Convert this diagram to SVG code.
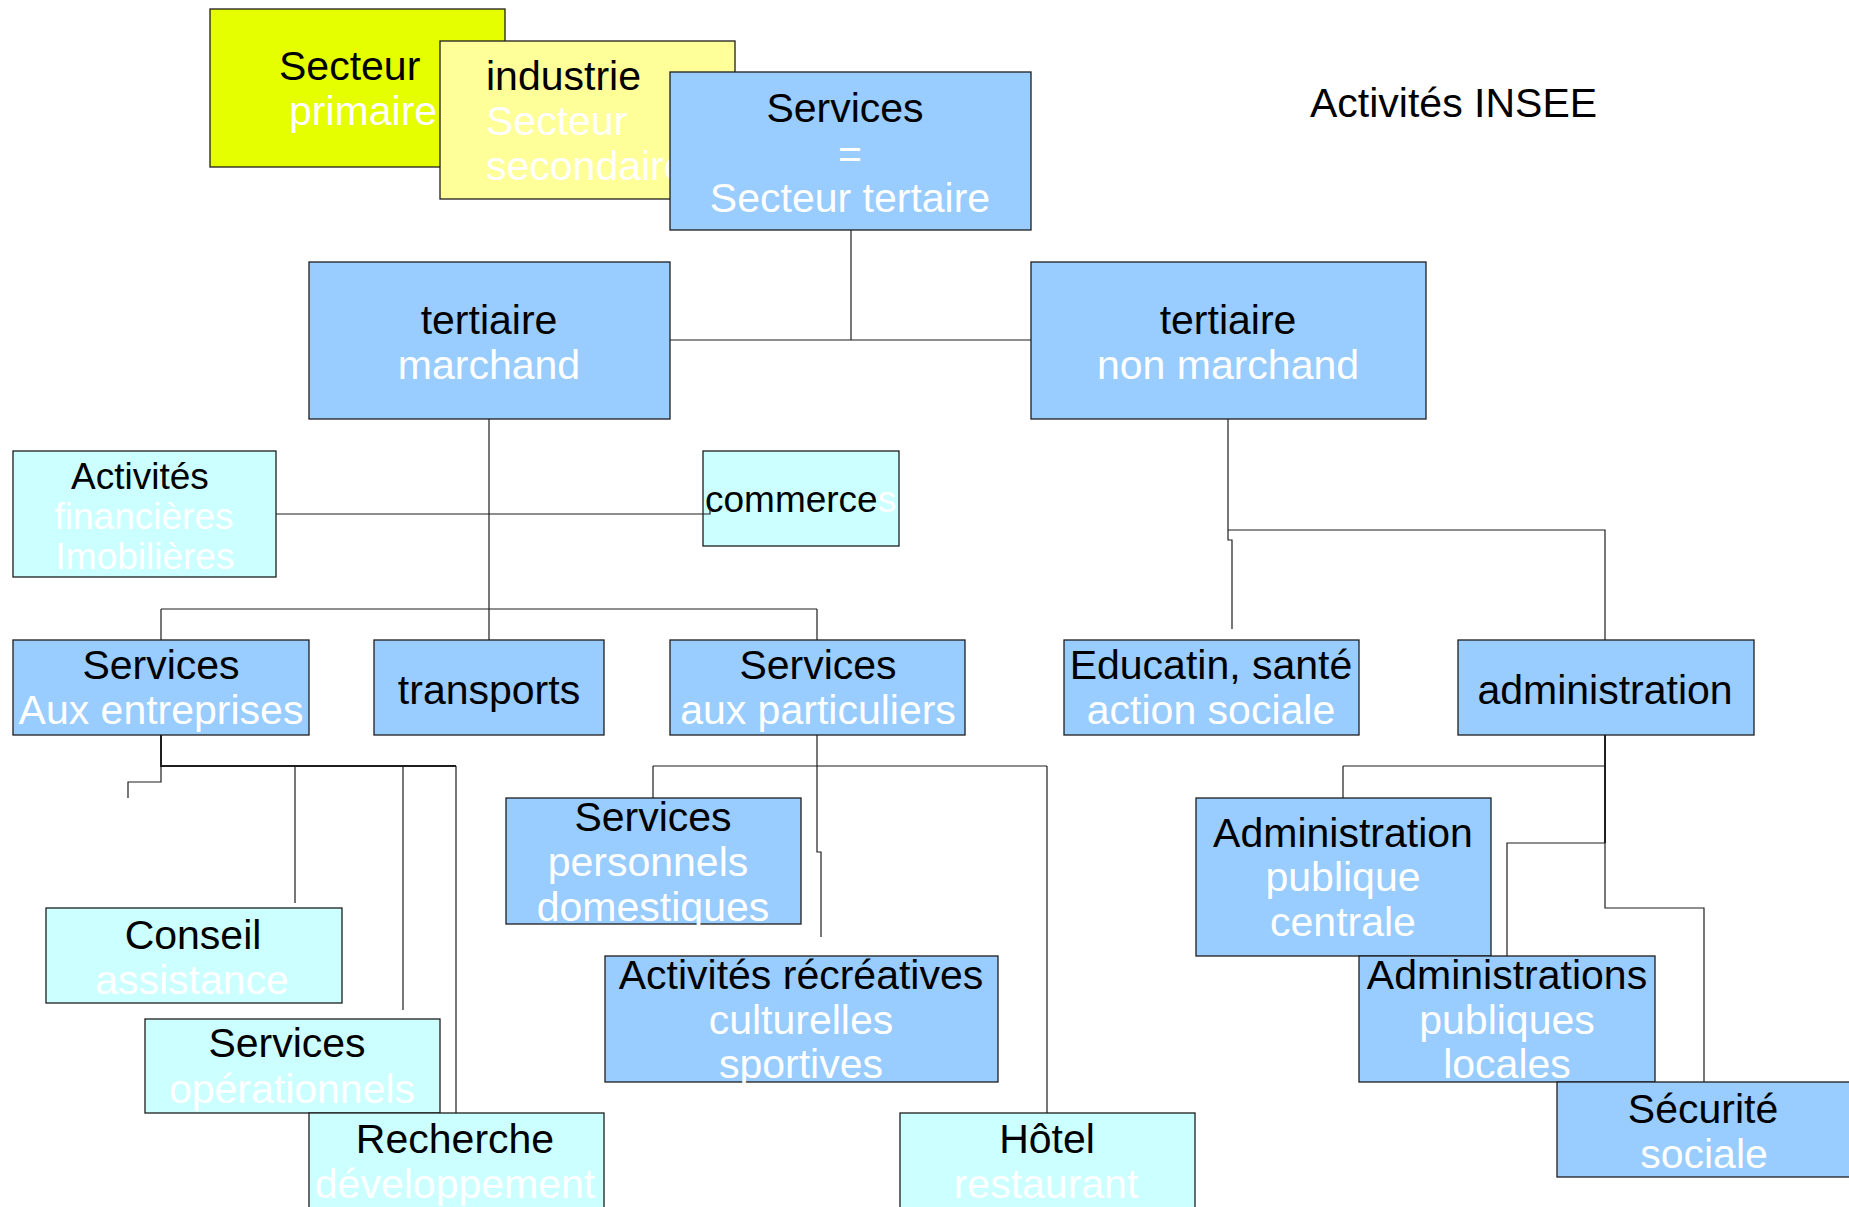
<svg xmlns="http://www.w3.org/2000/svg" width="1849" height="1207" viewBox="0 0 1849 1207">
<style>
.n{stroke:#1e1e1e;stroke-width:1.3}
.lime{fill:#e5ff00}.yel{fill:#ffff99}.blue{fill:#99ccff}.cyan{fill:#ccffff}
text{font-family:"Liberation Sans",Arial,sans-serif;font-size:41px}
.b{fill:#000}.w{fill:#ffffff}
.m{text-anchor:middle}
.s{font-size:37px}
.c path{fill:none;stroke:#1e1e1e;stroke-width:1.2}
.c .t{stroke-width:2}
</style>
<rect width="1849" height="1207" fill="#ffffff"/>
<text x="1310" y="117" class="b">Activités INSEE</text>
<g id="primaire"><rect class="n lime" x="210" y="9" width="295" height="158"/>
<text x="279" y="80" class="b">Secteur</text><text x="289" y="125" class="w">primaire</text></g>
<g id="industrie"><rect class="n yel" x="440" y="41" width="295" height="158"/>
<text x="486" y="90" class="b">industrie</text><text x="486" y="135" class="w">Secteur</text><text x="486" y="180" class="w">secondaire</text></g>
<g id="services"><rect class="n blue" x="670" y="72" width="361" height="158"/>
<text x="845" y="122" class="b m">Services</text><text x="850" y="168" class="w m">=</text><text x="850" y="212" class="w m">Secteur tertaire</text></g>
<g id="marchand"><rect class="n blue" x="309" y="262" width="361" height="157"/>
<text x="489" y="334" class="b m">tertiaire</text><text x="489" y="379" class="w m">marchand</text></g>
<g id="nonmarchand"><rect class="n blue" x="1031" y="262" width="395" height="157"/>
<text x="1228" y="334" class="b m">tertiaire</text><text x="1228" y="379" class="w m">non marchand</text></g>
<g id="financieres"><rect class="n cyan" x="13" y="451" width="263" height="126"/>
<text x="140" y="489" class="b m s">Activités</text><text x="144" y="529" class="w m s">financières</text><text x="145" y="569" class="w m s">Imobilières</text></g>
<g id="commerce"><rect class="n cyan" x="703" y="451" width="196" height="95"/>
<text x="705" y="512" class="b s">commerce<tspan class="w">s</tspan></text></g>
<g id="entreprises"><rect class="n blue" x="13" y="640" width="296" height="95"/>
<text x="161" y="679" class="b m">Services</text><text x="161" y="724" class="w m">Aux entreprises</text></g>
<g id="transports"><rect class="n blue" x="374" y="640" width="230" height="95"/>
<text x="489" y="704" class="b m">transports</text></g>
<g id="particuliers"><rect class="n blue" x="670" y="640" width="295" height="95"/>
<text x="818" y="679" class="b m">Services</text><text x="818" y="724" class="w m">aux particuliers</text></g>
<g id="education"><rect class="n blue" x="1064" y="640" width="295" height="95"/>
<text x="1211" y="679" class="b m">Educatin, santé</text><text x="1211" y="724" class="w m">action sociale</text></g>
<g id="administration"><rect class="n blue" x="1458" y="640" width="296" height="95"/>
<text x="1605" y="704" class="b m">administration</text></g>
<g id="conseil"><rect class="n cyan" x="46" y="908" width="296" height="95"/>
<text x="193" y="949" class="b m">Conseil</text><text x="192" y="994" class="w m">assistance</text></g>
<g id="operationnels"><rect class="n cyan" x="145" y="1019" width="295" height="94"/>
<text x="287" y="1057" class="b m">Services</text><text x="292" y="1103" class="w m">opérationnels</text></g>
<g id="recherche"><rect class="n cyan" x="309" y="1113" width="295" height="120"/>
<text x="455" y="1153" class="b m">Recherche</text><text x="455" y="1198" class="w m">développement</text></g>
<g id="personnels"><rect class="n blue" x="506" y="798" width="295" height="126"/>
<text x="653" y="831" class="b m">Services</text><text x="648" y="876" class="w m">personnels</text><text x="653" y="921" class="w m">domestiques</text></g>
<g id="recreatives"><rect class="n blue" x="605" y="956" width="393" height="126"/>
<text x="801" y="989" class="b m">Activités récréatives</text><text x="801" y="1034" class="w m">culturelles</text><text x="801" y="1078" class="w m">sportives</text></g>
<g id="hotel"><rect class="n cyan" x="900" y="1113" width="295" height="120"/>
<text x="1047" y="1153" class="b m">Hôtel</text><text x="1046" y="1198" class="w m">restaurant</text></g>
<g id="centrale"><rect class="n blue" x="1196" y="798" width="295" height="158"/>
<text x="1343" y="847" class="b m">Administration</text><text x="1343" y="891" class="w m">publique</text><text x="1343" y="936" class="w m">centrale</text></g>
<g id="locales"><rect class="n blue" x="1359" y="956" width="296" height="126"/>
<text x="1507" y="989" class="b m">Administrations</text><text x="1507" y="1034" class="w m">publiques</text><text x="1507" y="1078" class="w m">locales</text></g>
<g id="securite"><rect class="n blue" x="1557" y="1082" width="295" height="95"/>
<text x="1703" y="1123" class="b m">Sécurité</text><text x="1704" y="1168" class="w m">sociale</text></g>
<g id="connectors" class="c">
<path d="M851 230V340M670 340H1031"/>
<path d="M489 419V640M161 609H817M161 609V640M817 609V640"/>
<path d="M276 514H710V508"/>
<path d="M1228 419V530H1605V640M1228 530V540H1232V629"/>
<path class="t" d="M161 735V766H456"/>
<path d="M161 766V782H128V798M295 766V903M403 766V1010M456 766V1113"/>
<path d="M817 735V766M653 766H1047M653 766V798M1047 766V1113M817 766V852H821V937"/>
<path class="t" d="M1605 735V843"/>
<path d="M1605 843V908H1704V1082M1343 766H1605M1343 766V798M1605 843H1507V956"/>
</g>
</svg>
